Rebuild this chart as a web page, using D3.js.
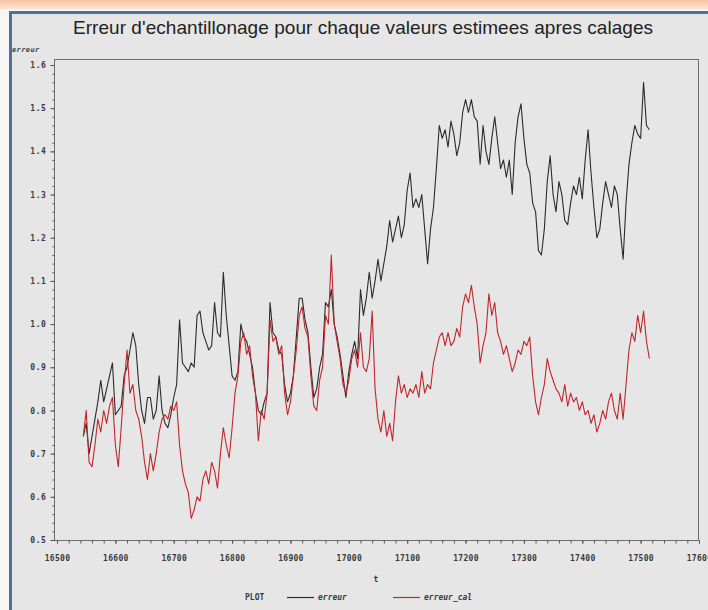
<!DOCTYPE html>
<html><head><meta charset="utf-8">
<script src="https://cdn.jsdelivr.net/npm/d3@7"></script>
<style>body{margin:0;background:#fff;} svg{display:block}</style>
</head><body><svg id="c" width="708" height="610"></svg>
<script>
// ---- data ----
const title = "Erreur d'echantillonage pour chaque valeurs estimees apres calages";
const tStart = 16545, tStep = 5;
const erreur = [
0.74,0.77,0.70,0.74,0.78,0.82,0.87,0.82,0.85,0.88,0.91,0.79,0.80,0.81,0.88,0.90,0.94,0.98,0.95,0.86,
0.80,0.77,0.83,0.83,0.78,0.80,0.88,0.80,0.77,0.76,0.79,0.83,0.86,1.01,0.91,0.90,0.89,0.91,0.90,1.02,
1.03,0.98,0.96,0.94,0.95,1.05,0.98,0.97,1.12,1.02,0.95,0.88,0.87,0.89,1.00,0.97,0.96,0.93,0.90,0.84,
0.80,0.79,0.82,0.84,1.05,0.98,0.97,0.94,0.93,0.86,0.82,0.84,0.88,0.97,1.06,1.06,1.01,0.98,0.90,0.83,
0.85,0.90,0.93,1.05,1.04,1.08,1.00,0.97,0.93,0.88,0.83,0.89,0.93,0.96,0.92,1.08,1.02,1.06,1.12,1.06,
1.10,1.15,1.10,1.14,1.18,1.24,1.19,1.22,1.25,1.20,1.23,1.31,1.35,1.27,1.29,1.27,1.30,1.22,1.14,1.22,
1.27,1.36,1.46,1.43,1.45,1.41,1.47,1.44,1.39,1.42,1.49,1.52,1.49,1.52,1.48,1.47,1.37,1.46,1.40,1.37,
1.43,1.48,1.42,1.36,1.38,1.34,1.38,1.30,1.42,1.48,1.51,1.43,1.37,1.35,1.28,1.26,1.17,1.16,1.22,1.33,
1.39,1.30,1.26,1.33,1.30,1.24,1.23,1.28,1.32,1.30,1.34,1.29,1.38,1.45,1.35,1.27,1.20,1.22,1.28,1.33,
1.30,1.27,1.32,1.30,1.22,1.15,1.28,1.37,1.42,1.46,1.44,1.43,1.56,1.46,1.45];
const erreurCal = [
0.74,0.80,0.68,0.67,0.72,0.78,0.75,0.80,0.77,0.81,0.83,0.72,0.67,0.76,0.86,0.94,0.84,0.86,0.80,0.78,
0.74,0.68,0.64,0.70,0.66,0.70,0.75,0.78,0.79,0.78,0.81,0.80,0.82,0.72,0.66,0.63,0.61,0.55,0.57,0.60,
0.59,0.64,0.66,0.63,0.68,0.66,0.62,0.70,0.76,0.72,0.69,0.76,0.84,0.88,0.96,0.98,0.93,0.95,0.88,0.84,
0.73,0.80,0.78,0.84,1.01,0.96,0.97,0.93,0.95,0.84,0.79,0.82,0.88,0.94,1.02,1.04,0.99,0.97,0.88,0.81,
0.80,0.87,0.90,1.02,1.00,1.16,1.00,0.96,0.92,0.86,0.84,0.87,0.92,0.94,0.90,0.98,0.90,0.89,0.92,1.03,
0.85,0.78,0.75,0.80,0.74,0.77,0.73,0.82,0.88,0.84,0.86,0.83,0.85,0.84,0.86,0.83,0.89,0.84,0.86,0.85,
0.91,0.94,0.97,0.98,0.95,0.98,0.95,0.96,0.99,0.97,1.04,1.07,1.05,1.09,1.04,1.00,0.91,0.95,0.98,1.07,
1.02,1.05,0.98,0.96,0.93,0.95,0.92,0.89,0.91,0.94,0.93,0.96,0.95,0.97,0.88,0.82,0.79,0.83,0.86,0.92,
0.89,0.87,0.85,0.84,0.82,0.86,0.81,0.84,0.82,0.83,0.80,0.82,0.79,0.80,0.77,0.79,0.75,0.77,0.80,0.78,
0.82,0.84,0.80,0.78,0.84,0.78,0.86,0.94,0.98,0.96,1.02,0.98,1.03,0.96,0.92];
const xTicks = [16500,16600,16700,16800,16900,17000,17100,17200,17300,17400,17500,17600];
const yTicks = [0.5,0.6,0.7,0.8,0.9,1.0,1.1,1.2,1.3,1.4,1.5,1.6];
const seriesNames = ["erreur","erreur_cal"];
const seriesColors = ["#2b2b2b","#c0262c"];

// ---- drawing ----
const svg = d3.select("#c");
const W = 708, H = 610;
const defs = svg.append("defs");
const g1 = defs.append("linearGradient").attr("id","peach").attr("x1",0).attr("y1",0).attr("x2",0).attr("y2",1);
g1.append("stop").attr("offset","0%").attr("stop-color","#f7c3a2");
g1.append("stop").attr("offset","100%").attr("stop-color","#fde3d3");

svg.append("rect").attr("width",W).attr("height",H).attr("fill","#e6e6e6");
svg.append("rect").attr("width",W).attr("height",9).attr("fill","url(#peach)");
svg.append("rect").attr("x",0).attr("y",9).attr("width",W).attr("height",2).attr("fill","#f6f6f6");
svg.append("rect").attr("x",0).attr("y",11).attr("width",9).attr("height",H-11).attr("fill","#f6f6f6");
// blue frame
svg.append("path").attr("d",`M10.5,${H} V12.5 H${W}`).attr("fill","none")
  .attr("stroke","#4d7296").attr("stroke-width",3);

const L = 54, R = 699, T = 59, B = 540;
const x = d3.scaleLinear().domain([16500,17600]).range([57,699]);
const y = d3.scaleLinear().domain([0.5,1.6]).range([540,65]);

// plot frame
svg.append("rect").attr("x",L+0.5).attr("y",T+0.5).attr("width",R-L-1).attr("height",B-T)
  .attr("fill","none").attr("stroke","#6e6e6e").attr("stroke-width",1);

const font = "'Liberation Sans', Arial, sans-serif";
const mono = "'DejaVu Sans Mono', 'Liberation Mono', monospace";

// Y axis
const yMinor = d3.range(0.5,1.6001,0.02);
const ya = svg.append("g").attr("transform",`translate(${L+0.5},0)`);
ya.append("g").call(d3.axisLeft(y).tickValues(yMinor).tickSize(2).tickFormat(""))
  .call(s=>s.select(".domain").remove());
ya.append("g").call(d3.axisLeft(y).tickValues(yTicks).tickSize(4).tickPadding(4).tickFormat(d3.format(".1f")))
  .call(s=>s.select(".domain").remove());
ya.selectAll("line").attr("stroke","#555");
ya.selectAll("text").attr("font-family",mono).attr("font-size",8).attr("font-weight","bold")
  .attr("letter-spacing",0.6).attr("fill","#3a3a3a");

// X axis
const xMinor = d3.range(16500,17600.1,20);
const xa = svg.append("g").attr("transform",`translate(0,${B+0.5})`);
xa.append("g").call(d3.axisBottom(x).tickValues(xMinor).tickSize(3).tickFormat(""))
  .call(s=>s.select(".domain").remove());
xa.append("g").call(d3.axisBottom(x).tickValues(xTicks).tickSize(3).tickPadding(12).tickFormat(d3.format("d")))
  .call(s=>s.select(".domain").remove());
xa.selectAll("line").attr("stroke","#555");
xa.selectAll("text").attr("font-family",mono).attr("font-size",8).attr("font-weight","bold")
  .attr("letter-spacing",0.3).attr("fill","#3a3a3a");

// lines
const line = d3.line().x((d,i)=>x(tStart+i*tStep)).y(d=>y(d));
[erreur, erreurCal].forEach((s,k)=>{
  svg.append("path").datum(s).attr("d",line).attr("fill","none")
    .attr("stroke",seriesColors[k]).attr("stroke-width",1.1).attr("stroke-linejoin","round");
});

// title
svg.append("text").attr("x",363).attr("y",34).attr("text-anchor","middle")
  .attr("font-family","'Liberation Sans Narrow', 'Liberation Sans', Arial, sans-serif")
  .attr("font-size",19).attr("fill","#222")
  .attr("textLength",580).attr("lengthAdjust","spacing").text(title);

// y label
svg.append("text").attr("x",12).attr("y",52).attr("font-family",mono).attr("font-size",7)
  .attr("font-weight","bold").attr("font-style","italic").attr("letter-spacing",0.4).attr("fill","#3a3a3a").text("erreur");
// x label
svg.append("text").attr("x",376).attr("y",582).attr("text-anchor","middle").attr("font-family",mono)
  .attr("font-size",8).attr("font-weight","bold").attr("fill","#3a3a3a").text("t");

// legend
const lg = svg.append("g").attr("font-family",mono).attr("font-size",8).attr("font-weight","bold").attr("fill","#3a3a3a");
lg.append("text").attr("x",245).attr("y",600).text("PLOT");
const lx = [287, 393];
seriesNames.forEach((n,k)=>{
  lg.append("line").attr("x1",lx[k]).attr("x2",lx[k]+27).attr("y1",597.5).attr("y2",597.5)
    .attr("stroke",seriesColors[k]).attr("stroke-width",1.2);
  lg.append("text").attr("x",lx[k]+31).attr("y",600).attr("font-style","italic").text(n);
});
</script></body></html>
